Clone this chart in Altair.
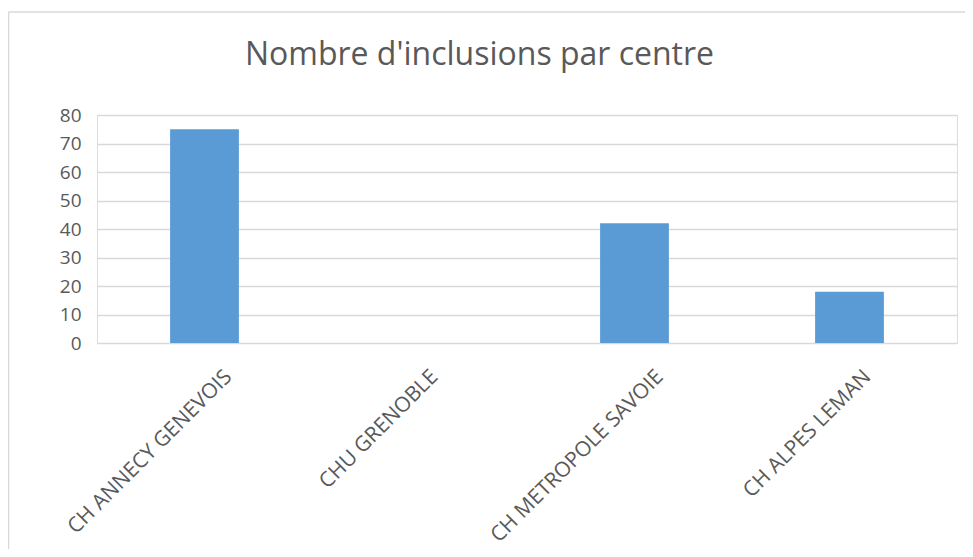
import altair as alt
import pandas as pd

categories = ["CH ANNECY GENEVOIS", "CHU GRENOBLE", "CH METROPOLE SAVOIE", "CH ALPES LEMAN"]
values = [75, 0, 42, 18]
title_text = "Nombre d'inclusions par centre"

df = pd.DataFrame({"centre": categories, "n": values})

FONT = "Open Sans"
TXT = "#595959"
GRID = "#d9d9d9"

xscale = alt.Scale(domain=categories, paddingInner=0.68, paddingOuter=0.34)

bars = alt.Chart(df).mark_bar(color="#5b9bd5").encode(
    x=alt.X("centre:N", sort=categories, scale=xscale,
            axis=alt.Axis(title=None, labels=False, ticks=False, domain=False)),
    y=alt.Y("n:Q", scale=alt.Scale(domain=[0, 80]),
            axis=alt.Axis(title=None, values=list(range(0, 81, 10)), labelFontSize=19,
                          labelFont=FONT, labelColor=TXT, ticks=False, domain=False,
                          labelPadding=16, gridColor=GRID, gridWidth=1.5)),
)

# rotated category labels (Excel-like anchoring: longer labels shift a bit right)
label_layers = []
for c in categories:
    k = 1.03 * len(c) - 7
    label_layers.append(
        alt.Chart(df).transform_filter(alt.datum.centre == c).mark_text(
            font=FONT, fontSize=21, color=TXT, angle=315, align="right", baseline="top",
            dx=k, dy=k,
        ).encode(x=alt.X("centre:N", sort=categories, scale=xscale), y=alt.value(251),
                 text="centre:N")
    )

title_df = pd.DataFrame({"t": [title_text]})
title = alt.Chart(title_df).mark_text(
    font=FONT, fontSize=32, color=TXT, align="center", baseline="alphabetic"
).encode(text="t:N", x=alt.value(382.5), y=alt.value(-50))

frame_df = pd.DataFrame({"k": [0]})
top_line = alt.Chart(frame_df).mark_rule(color="#d9d9d9", strokeWidth=1.5).encode(
    x=alt.value(-88.5), x2=alt.value(880), y=alt.value(-103))
left_line = alt.Chart(frame_df).mark_rule(color="#d9d9d9", strokeWidth=1.5).encode(
    x=alt.value(-88.5), y=alt.value(-103), y2=alt.value(450))

chart = alt.layer(top_line, left_line, bars, *label_layers, title).properties(
    width=860, height=228,
    autosize=alt.AutoSizeParams(type="none"),
    padding={"left": 89, "top": 107, "right": 8, "bottom": 206},
).configure_view(stroke=None).configure(background="white")

chart.save("out.html", embed_options={"renderer": "svg", "actions": False})
